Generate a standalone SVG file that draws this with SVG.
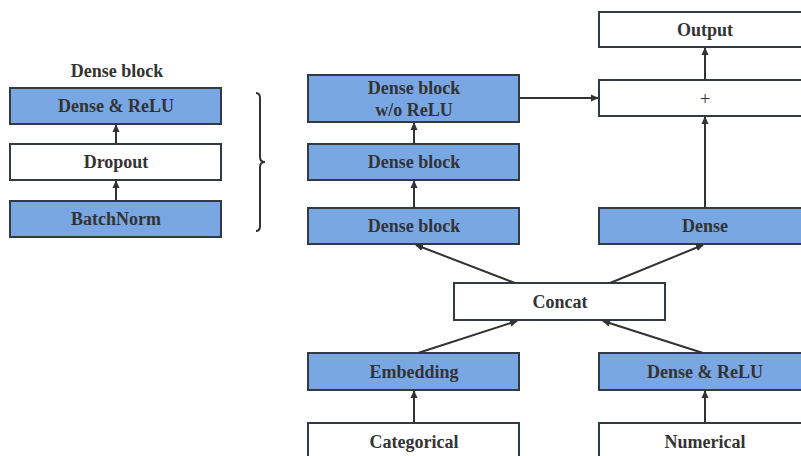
<svg xmlns="http://www.w3.org/2000/svg" width="801" height="456" viewBox="0 0 801 456">
<style>
.b{fill:#78a7e3;stroke:#323a44;stroke-width:2}
.w{fill:#ffffff;stroke:#323a44;stroke-width:2}
.t{font-family:"Liberation Serif","Times New Roman",serif;font-weight:bold;font-size:18px;fill:#333333;text-anchor:middle}
.p{font-family:"Liberation Serif","Times New Roman",serif;font-size:19px;fill:#333333;text-anchor:middle}
.c{fill:none;stroke:#333333;stroke-width:2}
</style>
<defs>
<marker id="ah" markerWidth="8" markerHeight="8" refX="7" refY="4" orient="auto" markerUnits="userSpaceOnUse">
<path d="M0,0.5 L8,4 L0,7.5 z" fill="#333333"/>
</marker>
</defs>
<rect width="801" height="456" fill="#ffffff"/>
<text class="t" x="117" y="77">Dense block</text>
<g id="dense-relu-a"><rect class="b" x="10" y="88" width="211" height="36"/><text class="t" x="116" y="112">Dense &amp; ReLU</text></g>
<g id="dropout"><rect class="w" x="10" y="144" width="211" height="36"/><text class="t" x="116" y="168">Dropout</text></g>
<g id="batchnorm"><rect class="b" x="10" y="201" width="211" height="36"/><text class="t" x="116" y="225">BatchNorm</text></g>
<path id="brace" class="c" d="M256,93 Q260,93 260,98 L260,157 Q260,162 265,162 Q260,162 260,167 L260,226 Q260,231 256,231"/>
<g id="dense-block-3"><rect class="b" x="308" y="75" width="211" height="47"/><text class="t" x="414" y="94">Dense block</text><text class="t" x="414" y="116">w/o ReLU</text></g>
<g id="dense-block-2"><rect class="b" x="308" y="144" width="211" height="36"/><text class="t" x="414" y="168">Dense block</text></g>
<g id="dense-block-1"><rect class="b" x="308" y="208" width="211" height="36"/><text class="t" x="414" y="232">Dense block</text></g>
<g id="output"><rect class="w" x="599" y="12" width="212" height="35"/><text class="t" x="705" y="36">Output</text></g>
<g id="plus"><rect class="w" x="599" y="80" width="212" height="36"/><text class="p" x="705" y="105">+</text></g>
<g id="dense"><rect class="b" x="599" y="208" width="212" height="36"/><text class="t" x="705" y="232">Dense</text></g>
<g id="concat"><rect class="w" x="454" y="283" width="211" height="37"/><text class="t" x="560" y="308">Concat</text></g>
<g id="embedding"><rect class="b" x="308" y="353" width="211" height="37"/><text class="t" x="414" y="378">Embedding</text></g>
<g id="dense-relu-b"><rect class="b" x="599" y="353" width="212" height="37"/><text class="t" x="705" y="378">Dense &amp; ReLU</text></g>
<g id="categorical"><rect class="w" x="308" y="423" width="211" height="40"/><text class="t" x="414" y="448">Categorical</text></g>
<g id="numerical"><rect class="w" x="599" y="423" width="212" height="40"/><text class="t" x="705" y="448">Numerical</text></g>
<g id="connectors" class="c" marker-end="url(#ah)">
<line x1="116" y1="144" x2="116" y2="125"/>
<line x1="116" y1="201" x2="116" y2="181"/>
<line x1="414" y1="144" x2="414" y2="123"/>
<line x1="414" y1="208" x2="414" y2="181"/>
<line x1="519" y1="98" x2="598" y2="98"/>
<line x1="705" y1="80" x2="705" y2="48"/>
<line x1="705" y1="208" x2="705" y2="117"/>
<line x1="515" y1="283" x2="416" y2="245"/>
<line x1="610" y1="283" x2="703" y2="245"/>
<line x1="418" y1="353" x2="517" y2="321"/>
<line x1="703" y1="353" x2="603" y2="321"/>
<line x1="414" y1="423" x2="414" y2="391"/>
<line x1="705" y1="423" x2="705" y2="391"/>
</g>
</svg>
